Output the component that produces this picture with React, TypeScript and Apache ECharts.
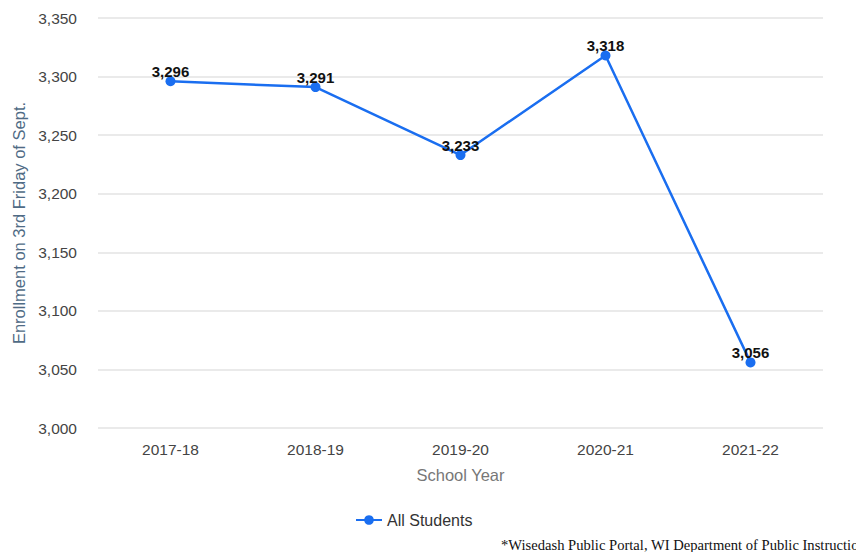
import React, { useEffect, useRef } from "react";
import * as echarts from "echarts";

const categories = ["2017-18", "2018-19", "2019-20", "2020-21", "2021-22"];
const enrollment = [3296, 3291, 3233, 3318, 3056];
const seriesName = "All Students";
const yAxisTitle = "Enrollment on 3rd Friday of Sept.";
const xAxisTitle = "School Year";
const footnote = "*Wisedash Public Portal, WI Department of Public Instruction";

const fmt = (v: number) => v.toLocaleString("en-US");

export default function App() {
  const ref = useRef<HTMLDivElement>(null);
  useEffect(() => {
    if (!ref.current) return;
    const chart = echarts.init(ref.current, null, { renderer: "svg" });
    const font = "'Liberation Sans', Arial, sans-serif";
    chart.setOption({
      animation: false,
      grid: { left: 98, right: 33, top: 18, bottom: 124 },
      legend: {
        data: [seriesName],
        top: 507,
        left: 350,
        itemWidth: 26,
        itemHeight: 12,
        itemGap: 5,
        textStyle: { fontFamily: font, fontSize: 16, color: "#333" },
      },
      xAxis: {
        type: "category",
        data: categories,
        boundaryGap: true,
        axisLine: { show: false },
        axisTick: { show: false },
        axisLabel: { fontFamily: font, fontSize: 15.5, color: "#444", margin: 13 },
        name: xAxisTitle,
        nameLocation: "middle",
        nameGap: 38,
        nameTextStyle: { fontFamily: font, fontSize: 16.5, color: "#777" },
      },
      yAxis: {
        type: "value",
        min: 3000,
        max: 3350,
        interval: 50,
        axisLine: { show: false },
        axisTick: { show: false },
        splitLine: { lineStyle: { color: "#e3e3e3", width: 1.5 } },
        axisLabel: {
          fontFamily: font,
          fontSize: 15.5,
          color: "#444",
          margin: 21,
          formatter: (v: number) => fmt(v),
        },
        name: yAxisTitle,
        nameLocation: "middle",
        nameGap: 70,
        nameTextStyle: { fontFamily: font, fontSize: 16.5, color: "#4f6b85" },
      },
      series: [
        {
          name: seriesName,
          type: "line",
          data: enrollment,
          symbol: "circle",
          symbolSize: 10,
          lineStyle: { color: "#1a6ef0", width: 2.5 },
          itemStyle: { color: "#1a6ef0" },
          label: {
            show: true,
            position: "top",
            distance: -3,
            fontFamily: font,
            fontSize: 15,
            fontWeight: "bold",
            color: "#111",
            formatter: (p: any) => fmt(p.value),
          },
        },
      ],
      graphic: [
        {
          type: "text",
          left: 501,
          top: 537,
          style: {
            text: footnote,
            font: "14.6px 'Liberation Serif', 'Times New Roman', serif",
            fill: "#111",
          },
        },
      ],
    });
    return () => chart.dispose();
  }, []);
  return (
    <div
      ref={ref}
      style={{ position: "fixed", left: 0, top: 0, width: 856, height: 552, background: "#fff" }}
    />
  );
}
